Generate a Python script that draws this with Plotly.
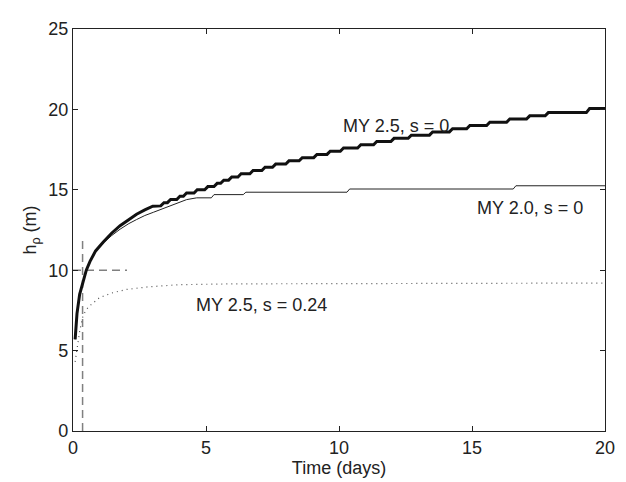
import plotly.graph_objects as go

# MY 2.5, s = 0 (thick, staircase)
t_my25 = [0.08, 0.15, 0.25, 0.39, 0.5, 0.64, 0.85, 1.14, 1.45, 1.77, 2.05, 2.39, 2.7, 3.0,
          3.3, 3.42, 3.55, 3.67, 3.9, 4.02, 4.15, 4.27, 4.55, 4.67, 4.95, 5.07,
          5.3, 5.42, 5.55, 5.67, 5.85, 5.97, 6.2, 6.32, 6.65, 6.77, 7.1, 7.22,
          7.5, 7.62, 8.0, 8.12, 8.5, 8.62, 9.05, 9.17, 9.55, 9.67, 10.05, 10.17,
          10.7, 10.82, 11.3, 11.42, 11.95, 12.07, 12.6, 12.72, 13.4, 13.52,
          14.15, 14.27, 14.8, 14.92, 15.55, 15.67, 16.3, 16.42, 17.05, 17.17,
          17.75, 17.87, 19.3, 19.42, 20.0]
h_my25 = [5.7, 7.3, 8.5, 9.34, 10.0, 10.55, 11.2, 11.76, 12.3, 12.77, 13.1, 13.48, 13.75, 13.98,
          14.0, 14.2, 14.2, 14.4, 14.4, 14.6, 14.6, 14.8, 14.8, 15.0, 15.0, 15.2,
          15.2, 15.4, 15.4, 15.6, 15.6, 15.8, 15.8, 16.0, 16.0, 16.2, 16.2, 16.4,
          16.4, 16.6, 16.6, 16.8, 16.8, 17.0, 17.0, 17.2, 17.2, 17.4, 17.4, 17.6,
          17.6, 17.8, 17.8, 18.0, 18.0, 18.2, 18.2, 18.4, 18.4, 18.6,
          18.6, 18.8, 18.8, 19.0, 19.0, 19.2, 19.2, 19.4, 19.4, 19.6,
          19.6, 19.8, 19.8, 20.05, 20.05]

# MY 2.0, s = 0 (thin)
t_my20 = [0.08, 0.15, 0.25, 0.39, 0.5, 0.64, 0.85, 1.14, 1.45, 1.77, 2.1, 2.39, 2.7, 3.02,
          3.35, 3.65, 3.95, 4.27, 4.65, 5.2, 5.3, 6.4, 6.5, 10.3, 10.4, 16.55, 16.65, 20.0]
h_my20 = [5.7, 7.3, 8.5, 9.34, 10.0, 10.55, 11.18, 11.7, 12.15, 12.55, 12.9, 13.15, 13.4, 13.6,
          13.82, 14.02, 14.22, 14.39, 14.5, 14.5, 14.7, 14.7, 14.85, 14.85, 15.05, 15.05, 15.25, 15.25]

# MY 2.5, s = 0.24 (dotted)
t_my25s = [0.08, 0.14, 0.26, 0.38, 0.57, 1.0, 1.5, 2.0, 2.8, 4.0, 6.0, 20.0]
h_my25s = [4.3, 4.9, 6.3, 7.2, 7.7, 8.3, 8.6, 8.8, 8.96, 9.1, 9.15, 9.2]

# guide lines
t_guide = 0.36
h_guide = 10.0
h_guide_top = 11.95
t_guide_end = 2.03

fig = go.Figure()
fig.add_trace(go.Scatter(x=[t_guide, t_guide], y=[0, h_guide_top], mode='lines',
                         line=dict(color='#808080', width=1.5, dash='8px,5px')))
fig.add_trace(go.Scatter(x=[0, t_guide_end], y=[h_guide, h_guide], mode='lines',
                         line=dict(color='#808080', width=1.5, dash='8px,5px')))
fig.add_trace(go.Scatter(x=t_my25s, y=h_my25s, mode='lines',
                         line=dict(color='#555555', width=1.2, dash='1px,4px')))
fig.add_trace(go.Scatter(x=t_my20, y=h_my20, mode='lines',
                         line=dict(color='#222222', width=1)))
fig.add_trace(go.Scatter(x=t_my25, y=h_my25, mode='lines',
                         line=dict(color='#111111', width=3)))

font = dict(family='Liberation Sans, Arial, sans-serif', size=18, color='#222222')
fig.add_annotation(x=12.14, y=18.95, text='MY 2.5, s = 0', showarrow=False, font=font)
fig.add_annotation(x=17.17, y=13.88, text='MY 2.0, s = 0', showarrow=False, font=font)
fig.add_annotation(x=7.08, y=7.83, text='MY 2.5, s = 0.24', showarrow=False, font=font)

axis = dict(showgrid=False, zeroline=False, showline=True, linecolor='#222222', linewidth=1.2,
            mirror='ticks', ticks='inside', ticklen=5, tickcolor='#222222', tickfont=font)
fig.update_xaxes(range=[0, 20], tickvals=[0, 5, 10, 15, 20],
                 title=dict(text='Time (days)', font=font, standoff=2), **axis)
fig.update_yaxes(range=[0, 25], tickvals=[0, 5, 10, 15, 20, 25],
                 title=dict(text='h<sub>ρ</sub> (m)', font=font, standoff=6), **axis)
fig.update_layout(width=626, height=482, showlegend=False, plot_bgcolor='white',
                  paper_bgcolor='white', margin=dict(l=65, r=29, t=11, b=59), font=font)
fig.write_html("out.html")
